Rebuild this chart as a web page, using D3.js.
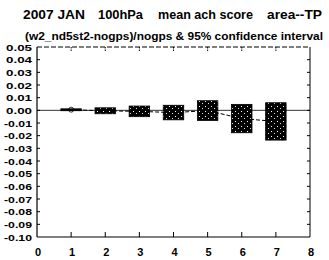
<!DOCTYPE html>
<html>
<head>
<meta charset="utf-8">
<script src="https://cdn.jsdelivr.net/npm/d3@7"></script>
<style>
  body { margin: 0; background: #fff; }
  text { font-family: "Liberation Sans", Arial, sans-serif; font-weight: bold; fill: #000; }
</style>
</head>
<body>
<svg id="chart" width="329" height="260"></svg>
<script>
// forecast day, 95% interval bounds and mean score difference
var days = [1, 2, 3, 4, 5, 6, 7];
var upper = [0.0012, 0.0020, 0.0034, 0.0040, 0.0076, 0.0047, 0.0060];
var lower = [-0.0003, -0.0027, -0.0050, -0.0075, -0.0080, -0.0177, -0.0235];
var means = [0.0005, -0.0004, -0.0008, -0.0018, -0.0002, -0.0065, -0.0088];
var xTicks = [0, 1, 2, 3, 4, 5, 6, 7, 8];
var yTicks = [0.05, 0.04, 0.03, 0.02, 0.01, 0, -0.01, -0.02, -0.03, -0.04, -0.05, -0.06, -0.07, -0.08, -0.09, -0.10];
var titleParts = ["2007 JAN", "100hPa", "mean ach score", "area--TP"];
var subtitle = "(w2_nd5st2-nogps)/nogps & 95% confidence interval";

var svg = d3.select("#chart");
// plot box (window.top is reserved, so use other names)
var pLeft = 37, pRight = 310, pTop = 47, pBottom = 237;

var x = d3.scaleLinear().domain([0, 8]).range([pLeft, pRight]);
var y = d3.scaleLinear().domain([-0.10, 0.05]).range([pBottom, pTop]);

// speckled black fill like the original plot
var pat = svg.append("defs").append("pattern")
    .attr("id", "speck").attr("patternUnits", "userSpaceOnUse")
    .attr("width", 6).attr("height", 5);
pat.append("rect").attr("width", 6).attr("height", 5).attr("fill", "#000");
pat.append("rect").attr("x", 1).attr("y", 1).attr("width", 1).attr("height", 1).attr("fill", "#fff");
pat.append("rect").attr("x", 4).attr("y", 3).attr("width", 1).attr("height", 1).attr("fill", "#ddd");

// title
var titleX = [23, 98, 158, 267], titleW = [62, 45, 95, 55];
svg.selectAll(".title").data(titleParts).enter().append("text")
    .attr("class", "title")
    .attr("x", function(d, i) { return titleX[i]; })
    .attr("y", 19)
    .attr("textLength", function(d, i) { return titleW[i]; })
    .attr("lengthAdjust", "spacingAndGlyphs")
    .style("font-size", "12px")
    .text(function(d) { return d; });

svg.append("text")
    .attr("x", 25).attr("y", 40)
    .attr("textLength", 298).attr("lengthAdjust", "spacingAndGlyphs")
    .style("font-size", "10.5px")
    .text(subtitle);

// zero line
svg.append("line")
    .attr("x1", x(0)).attr("x2", x(8))
    .attr("y1", y(0)).attr("y2", y(0))
    .attr("stroke", "#333").attr("stroke-width", 1);

// mean line
svg.append("path")
    .datum(days)
    .attr("fill", "none")
    .attr("stroke", "#000")
    .attr("stroke-width", 1)
    .attr("stroke-dasharray", "4,2")
    .attr("d", d3.line().x(function(d) { return x(d); }).y(function(d, i) { return y(means[i]); }));

// interval boxes
svg.selectAll(".box").data(days).enter().append("rect")
    .attr("class", "box")
    .attr("x", function(d) { return x(d - 0.3); })
    .attr("width", x(0.6) - x(0))
    .attr("y", function(d, i) { return y(upper[i]); })
    .attr("height", function(d, i) { return y(lower[i]) - y(upper[i]); })
    .attr("fill", "url(#speck)")
    .attr("stroke", "#000").attr("stroke-width", 0.8);

// marker at day 1
svg.append("circle")
    .attr("cx", x(1)).attr("cy", y(means[0]))
    .attr("r", 2.5)
    .attr("fill", "none").attr("stroke", "#000").attr("stroke-width", 0.8);

// frame
var frame = svg.append("g").attr("stroke", "#000").attr("fill", "none");
frame.append("line").attr("x1", pLeft).attr("x2", pLeft).attr("y1", pTop).attr("y2", pBottom).attr("stroke-width", 1.2);
frame.append("line").attr("x1", pLeft).attr("x2", pRight).attr("y1", pBottom).attr("y2", pBottom).attr("stroke-width", 1.2);
frame.append("line").attr("x1", pRight).attr("x2", pRight).attr("y1", pTop).attr("y2", pBottom).attr("stroke-width", 1);
frame.append("line").attr("x1", pLeft).attr("x2", pRight).attr("y1", pTop).attr("y2", pTop)
    .attr("stroke-width", 1).attr("stroke-dasharray", "5,2");

// y ticks, inward on both sides
var yIn = yTicks.slice(1, -1);
frame.selectAll(".ytl").data(yIn).enter().append("line")
    .attr("x1", pLeft).attr("x2", pLeft + 3)
    .attr("y1", function(d) { return y(d); }).attr("y2", function(d) { return y(d); });
frame.selectAll(".ytr").data(yIn).enter().append("line")
    .attr("x1", pRight - 3).attr("x2", pRight)
    .attr("y1", function(d) { return y(d); }).attr("y2", function(d) { return y(d); });

// x ticks, inward top and bottom
var xIn = xTicks.slice(1, -1);
frame.selectAll(".xtb").data(xIn).enter().append("line")
    .attr("x1", function(d) { return x(d); }).attr("x2", function(d) { return x(d); })
    .attr("y1", pBottom).attr("y2", pBottom - 5);
frame.selectAll(".xtt").data(xIn).enter().append("line")
    .attr("x1", function(d) { return x(d); }).attr("x2", function(d) { return x(d); })
    .attr("y1", pTop).attr("y2", pTop + 5)
    .attr("stroke-dasharray", "1.5,1");

// y labels
var fmt = d3.format(".2f");
svg.selectAll(".ylab").data(yTicks).enter().append("text")
    .attr("x", 32)
    .attr("y", function(d) { return y(d) + 3.5; })
    .attr("text-anchor", "end")
    .attr("textLength", function(d) { return d < 0 ? 28 : 26; })
    .attr("lengthAdjust", "spacingAndGlyphs")
    .style("font-size", "9.5px")
    .text(function(d) { return d < 0 ? "-" + fmt(-d) : fmt(d); });

// x labels
svg.selectAll(".xlab").data(xTicks).enter().append("text")
    .attr("x", function(d) { return x(d) + 1; })
    .attr("y", 256)
    .attr("text-anchor", "middle")
    .style("font-size", "11px")
    .text(function(d) { return d; });
</script>
</body>
</html>
